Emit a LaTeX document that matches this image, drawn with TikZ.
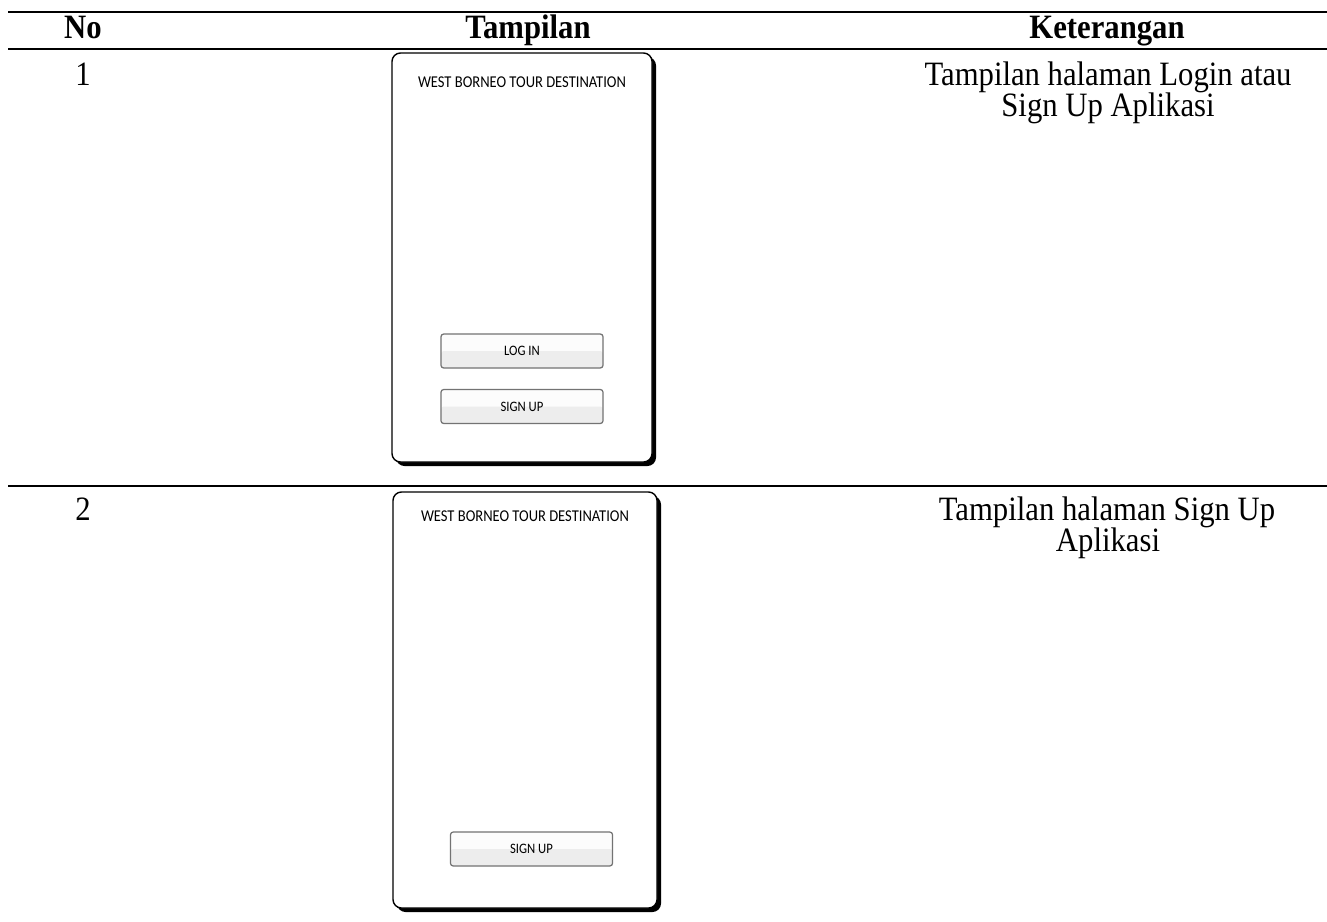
\documentclass[tikz,border=0pt]{standalone}
\usepackage{fontspec}
\usepackage{xcolor}
\setmainfont{Liberation Serif}[FakeStretch=0.9]
\newfontfamily\phonefont{Carlito}[FakeStretch=0.88]
\usepackage{tikz}

\begin{document}
\begin{tikzpicture}[x=0.01cm, y=-0.01cm,
    rule/.style={line width=0.55pt},
    head/.style={font=\fontsize{9.7}{10}\selectfont\bfseries, anchor=base, inner sep=0pt},
    cell/.style={font=\fontsize{9.7}{10}\selectfont, anchor=base, inner sep=0pt},
    frame/.style={draw=black, line width=0.4pt, fill=white, rounded corners=2.4pt},
    shade/.style={fill=black, rounded corners=2.4pt},
    title/.style={font=\phonefont\fontsize{4.7}{5}\selectfont, inner sep=0pt},
    btn/.style={draw=black!55, line width=0.35pt, fill=black!1, rounded corners=0.8pt,
      minimum width=1.62cm, minimum height=0.34cm, inner sep=0pt,
      font=\phonefont\fontsize{4.1}{4.5}\selectfont,
      path picture={\fill[black!7] (path picture bounding box.west) rectangle (path picture bounding box.south east);}}]
      \useasboundingbox (0, 0) rectangle (1327, 921);
      \draw[rule] (8, 12) -- (1327, 12);
      \draw[rule] (8, 49) -- (1327, 49);
      \draw[rule] (8, 486) -- (1327, 486);
      \node[head] (no) at (83, 38) {No};
      \node[head] (tampilan) at (528, 38) {Tampilan};
      \node[head] (keterangan) at (1107, 38) {Keterangan};
      \node[cell] (no1) at (83, 85) {1};
      \node[cell] (ket1a) at (1108, 85) {Tampilan halaman Login atau};
      \node[cell] (ket1b) at (1108, 116) {Sign Up Aplikasi};
      \node[cell] (no2) at (83, 520) {2};
      \node[cell] (ket2a) at (1107, 520) {Tampilan halaman Sign Up};
      \node[cell] (ket2b) at (1108, 551) {Aplikasi};
      \fill[shade] (396, 57) rectangle (656, 466);
      \draw[frame] (392, 53) rectangle (652, 462);
      \node[title] (title1) at (522, 82) {WEST BORNEO TOUR DESTINATION};
      \node[btn] (login1) at (522, 351) {LOG IN};
      \node[btn] (signup1) at (522, 406.5) {SIGN UP};
      \fill[shade] (397, 496) rectangle (661, 912);
      \draw[frame] (393, 492) rectangle (657, 908);
      \node[title] (title2) at (525, 516) {WEST BORNEO TOUR DESTINATION};
      \node[btn] (signup2) at (531.5, 849) {SIGN UP};
    \end{tikzpicture}
\end{document}
